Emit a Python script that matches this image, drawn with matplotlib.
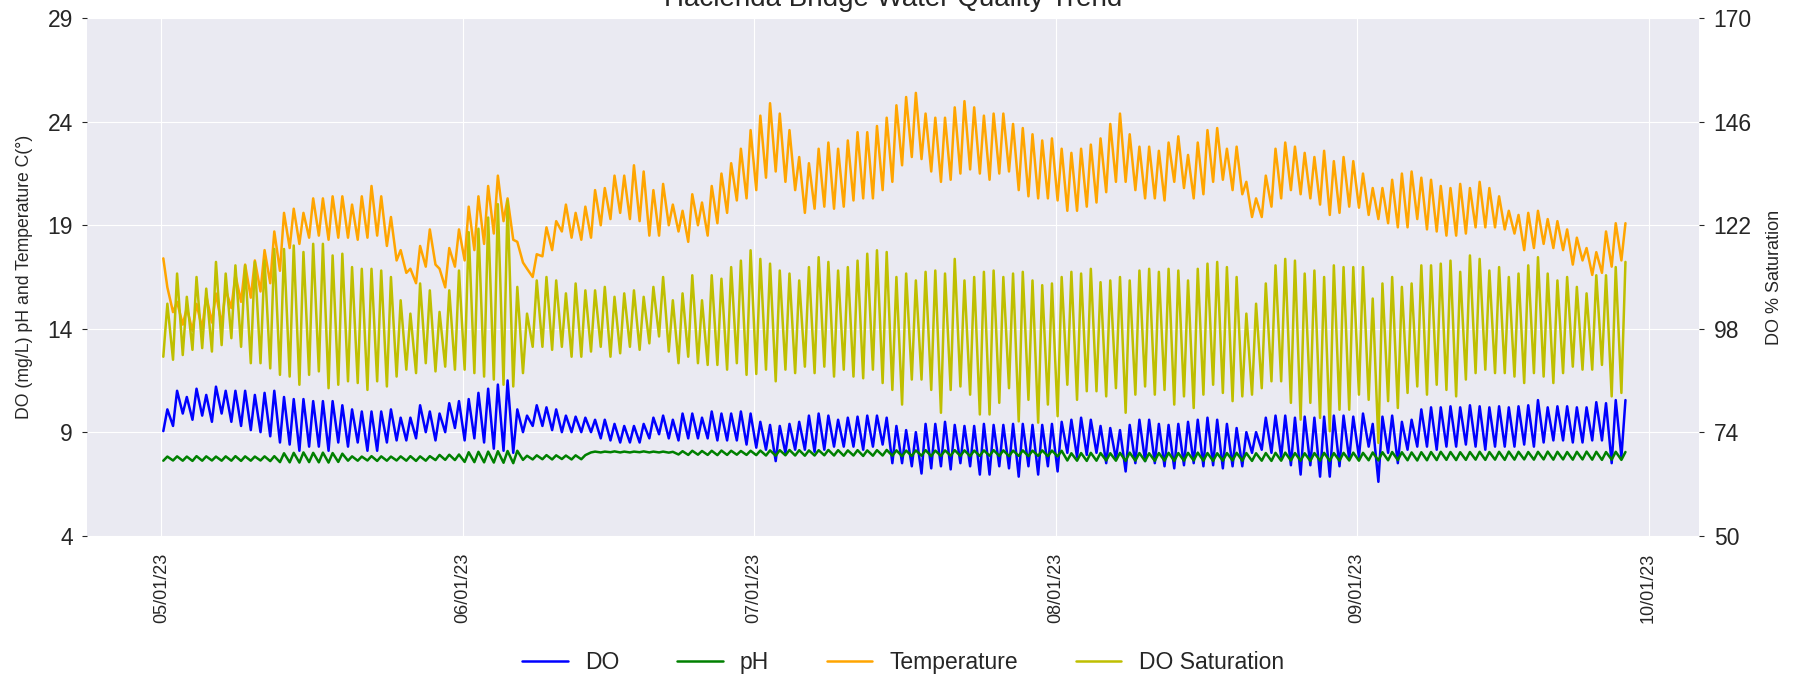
import numpy as np
import matplotlib
matplotlib.use("Agg")
import matplotlib.pyplot as plt
import matplotlib.dates as mdates
import seaborn as sns

# ---------------- data: one morning (low) and one afternoon (high) reading per day, 05/01/23 .. 09/28/23
temp_am = [17.4, 14.8, 14.2, 13.9, 14.0, 14.3, 14.2, 15.0, 15.3, 15.5, 15.8, 16.2, 16.8, 17.9, 18.1, 18.4,
           18.5, 18.3, 18.4, 18.4, 18.3, 18.4, 18.5, 18.0, 17.3, 16.7, 16.2, 17.0, 17.1, 16.0, 17.0,
           17.3, 17.8, 18.1, 18.6, 19.2, 18.3, 17.2, 16.5, 17.5, 17.8, 18.7, 18.4, 18.3, 18.4, 19.0,
           19.3, 19.6, 19.3, 19.2, 18.5, 18.5, 19.0, 18.7, 18.2, 19.0, 18.5, 19.1, 19.6, 20.2, 20.3,
           20.7, 21.3, 21.6, 21.1, 20.7, 19.6, 19.8, 19.9, 19.8, 19.9, 20.2, 20.3, 20.3, 20.7, 21.1,
           21.9, 22.3, 22.2, 21.6, 21.1, 21.2, 21.5, 21.7, 21.5, 21.2, 21.5, 21.6, 20.7, 20.4, 20.3, 20.3,
           20.2, 19.7, 19.7, 19.9, 20.1, 20.6, 21.1, 21.1, 20.7, 20.3, 20.3, 20.2, 21.1, 20.8, 20.3,
           20.5, 21.1, 21.2, 20.7, 20.5, 19.4, 19.4, 19.9, 20.3, 20.7, 20.5, 20.3, 20.0, 19.5, 19.6, 19.9,
           19.85, 19.5, 19.3, 19.1, 18.9, 18.9, 19.3, 18.8, 18.7, 18.5, 18.5, 18.6, 18.9, 18.9, 18.9,
           18.8, 18.6, 17.8, 17.9, 18.1, 17.9, 17.8, 17.1, 17.3, 16.6, 16.7, 17.0, 17.3]
temp_pm = [16.0, 15.3, 15.0, 15.2, 15.6, 15.7, 15.9, 16.6, 17.1, 17.3, 17.8, 18.7, 19.6, 19.8, 19.6, 20.3,
           20.3, 20.4, 20.4, 20.0, 20.4, 20.9, 20.4, 19.4, 17.8, 16.9, 18.0, 18.8, 16.9, 17.9, 18.8,
           19.9, 20.4, 20.9, 21.4, 20.3, 18.2, 16.9, 17.6, 18.9, 19.2, 20.0, 19.6, 19.9, 20.7, 20.8,
           21.4, 21.4, 21.9, 21.6, 20.7, 21.0, 20.0, 19.7, 20.5, 20.1, 20.9, 21.5, 22.0, 22.7, 23.6,
           24.3, 24.9, 24.4, 23.6, 22.3, 22.0, 22.7, 23.0, 22.7, 23.1, 23.5, 23.5, 23.8, 24.2, 24.8,
           25.2, 25.4, 24.4, 24.2, 24.2, 24.7, 25.0, 24.7, 24.3, 24.4, 24.4, 23.9, 23.7, 23.4, 23.1, 23.2,
           22.7, 22.5, 22.7, 22.9, 23.2, 23.9, 24.4, 23.4, 22.8, 22.8, 22.6, 23.0, 23.3, 22.4, 23.0,
           23.6, 23.7, 22.7, 22.8, 21.1, 20.3, 21.4, 22.7, 23.0, 22.8, 22.5, 22.3, 22.6, 22.1, 22.3, 22.1,
           21.5, 20.8, 20.8, 21.2, 21.5, 21.6, 21.3, 21.2, 20.9, 20.8, 21.0, 20.8, 21.1, 20.8, 20.4,
           19.7, 19.5, 19.6, 19.7, 19.3, 19.2, 18.8, 18.4, 17.9, 17.7, 18.7, 19.1, 19.1]

do_am = [9.05, 9.3, 9.9, 9.6, 9.8, 9.5, 9.9, 9.5, 9.3, 9.1, 9.0, 8.8, 8.5, 8.4, 8.1, 8.3,
         8.3, 8.1, 8.5, 8.3, 8.5, 8.1, 8.1, 8.5, 8.6, 8.6, 8.7, 9.0, 8.6, 9.0, 9.2,
         8.6, 8.7, 8.5, 8.2, 8.1, 8.0, 9.0, 9.3, 9.3, 9.1, 9.0, 9.0, 9.0, 9.0, 8.7,
         8.6, 8.5, 8.5, 8.5, 8.7, 8.9, 8.7, 8.6, 8.7, 8.7, 8.7, 8.6, 8.6, 8.6, 8.4,
         8.25, 8.15, 7.6, 8.0, 8.15, 8.15, 8.05, 8.15, 8.3, 8.3, 8.3, 8.15, 8.3, 8.4, 7.5,
         7.5, 7.35, 7.0, 7.25, 7.35, 7.2, 7.5, 7.35, 6.95, 6.95, 7.35, 7.25, 6.85, 7.35, 6.95, 7.35,
         7.1, 8.0, 7.8, 7.9, 8.0, 7.5, 7.7, 7.1, 7.5, 7.6, 7.5, 7.35, 7.25, 7.4, 7.5,
         7.35, 7.4, 7.25, 7.35, 7.35, 8.0, 8.15, 8.0, 7.8, 7.4, 6.95, 7.4, 6.85, 6.85, 7.35, 7.7,
         7.8, 8.3, 6.6, 8.0, 7.5, 8.15, 8.3, 8.3, 8.15, 8.3, 8.3, 8.4, 8.3, 8.15, 8.3,
         8.3, 8.3, 8.4, 8.3, 8.5, 8.6, 8.6, 8.5, 8.5, 8.6, 8.6, 7.5, 7.8]
do_pm = [10.1, 11.0, 10.7, 11.1, 10.8, 11.2, 11.0, 11.0, 11.0, 10.8, 10.9, 11.0, 10.7, 10.6, 10.6, 10.5,
         10.5, 10.5, 10.3, 10.1, 10.0, 10.0, 10.0, 10.1, 9.7, 9.7, 10.3, 10.0, 9.9, 10.4, 10.5,
         10.6, 10.9, 11.1, 11.3, 11.5, 10.1, 9.8, 10.3, 10.2, 10.1, 9.8, 9.75, 9.7, 9.6, 9.6,
         9.4, 9.3, 9.3, 9.4, 9.7, 9.8, 9.6, 9.9, 9.9, 9.7, 10.0, 9.9, 9.9, 10.0, 9.9,
         9.5, 9.35, 9.3, 9.4, 9.5, 9.8, 9.9, 9.8, 9.6, 9.7, 9.75, 9.8, 9.8, 9.7, 9.3,
         9.1, 9.0, 9.4, 9.4, 9.5, 9.35, 9.3, 9.3, 9.4, 9.35, 9.35, 9.4, 9.4, 9.35, 9.35, 9.4,
         9.5, 9.6, 9.7, 9.6, 9.3, 9.2, 9.1, 9.35, 9.6, 9.6, 9.4, 9.35, 9.4, 9.5, 9.6,
         9.7, 9.6, 9.4, 9.2, 9.0, 9.0, 9.7, 9.8, 9.8, 9.7, 9.75, 9.7, 9.75, 9.8, 9.8, 9.75,
         9.9, 9.4, 9.75, 9.8, 9.5, 9.6, 10.1, 10.2, 10.2, 10.25, 10.2, 10.3, 10.25, 10.2, 10.25,
         10.2, 10.25, 10.3, 10.55, 10.2, 10.25, 10.25, 10.2, 10.2, 10.45, 10.4, 10.55, 10.55]

ph_am = [7.62, 7.63, 7.62, 7.61, 7.62, 7.63, 7.62, 7.62, 7.61, 7.62, 7.63, 7.60,
         7.55, 7.54, 7.53, 7.55, 7.54, 7.53, 7.56,
         7.62, 7.62, 7.63, 7.61, 7.62, 7.63, 7.62, 7.61, 7.62,
         7.65, 7.66, 7.65,
         7.56, 7.55, 7.54, 7.53, 7.52, 7.50,
         7.66, 7.68, 7.69, 7.68, 7.70, 7.68, 7.69,
         8.02, 8.02, 8.03, 8.02, 8.02, 8.03, 8.02, 8.02, 8.01,
         7.92, 7.90, 7.91, 7.90, 7.89, 7.90, 7.91, 7.90, 7.89,
         7.87, 7.86, 7.88, 7.87, 7.86, 7.87, 7.88, 7.87, 7.86, 7.87, 7.85, 7.86, 7.87, 7.86, 7.84, 7.85,
         7.86, 7.84, 7.85, 7.86, 7.85, 7.84, 7.85, 7.86, 7.85, 7.84, 7.85, 7.84, 7.85, 7.84, 7.83,
         7.63, 7.62, 7.61, 7.62, 7.63, 7.62, 7.61, 7.62, 7.60, 7.61, 7.62, 7.61, 7.62, 7.63, 7.62, 7.61,
         7.62, 7.63, 7.62, 7.61, 7.62, 7.61, 7.62, 7.63, 7.62, 7.61, 7.62, 7.61, 7.62, 7.63, 7.62,
         7.64, 7.63, 7.64, 7.65, 7.64, 7.63, 7.64, 7.65, 7.66, 7.65, 7.66, 7.67, 7.66, 7.67, 7.66,
         7.67, 7.68, 7.67, 7.68, 7.67, 7.68, 7.67, 7.68, 7.67, 7.66, 7.67, 7.66]
ph_pm = [7.82, 7.83, 7.82, 7.84, 7.83, 7.82, 7.83, 7.84, 7.83, 7.82, 7.83, 7.84,
         7.98, 8.00, 8.02, 8.00, 8.01, 7.99, 7.96,
         7.83, 7.82, 7.84, 7.83, 7.82, 7.83, 7.84, 7.83, 7.84,
         7.90, 7.91, 7.92,
         8.03, 8.05, 8.06, 8.08, 8.09, 8.10,
         7.86, 7.88, 7.89, 7.88, 7.87, 7.88, 7.89,
         8.06, 8.06, 8.07, 8.06, 8.06, 8.07, 8.06, 8.06, 8.05,
         8.08, 8.10, 8.09, 8.10, 8.11, 8.10, 8.09, 8.10, 8.11,
         8.12, 8.13, 8.14, 8.13, 8.12, 8.13, 8.14, 8.13, 8.12, 8.13, 8.12, 8.13, 8.14, 8.12, 8.11, 8.12,
         8.13, 8.11, 8.12, 8.13, 8.12, 8.11, 8.12, 8.13, 8.12, 8.11, 8.12, 8.11, 8.12, 8.11, 8.10,
         7.98, 7.99, 8.00, 7.99, 7.98, 8.00, 8.01, 7.99, 7.98, 7.99, 8.00, 7.99, 8.00, 8.01, 7.99, 7.98,
         7.99, 8.00, 7.99, 7.98, 7.99, 8.00, 8.01, 7.99, 7.98, 7.99, 8.00, 7.99, 8.00, 8.01, 8.00,
         8.02, 8.03, 8.04, 8.03, 8.02, 8.03, 8.04, 8.05, 8.04, 8.03, 8.04, 8.05, 8.04, 8.05, 8.06,
         8.05, 8.04, 8.05, 8.06, 8.05, 8.04, 8.05, 8.06, 8.05, 8.04, 8.05, 8.04]

sat_am = [91.5, 90.8, 91.9, 93.1, 93.5, 92.7, 94.2, 95.8, 93.8, 90.0, 90.0, 88.8, 87.3, 86.9, 85.0, 87.3,
          88.1, 84.2, 85.0, 85.8, 85.4, 83.8, 85.8, 84.6, 86.9, 88.5, 87.7, 90.0, 88.1, 89.2, 88.5,
          88.5, 87.7, 86.9, 86.2, 85.0, 84.6, 87.7, 93.8, 93.8, 93.1, 93.8, 91.5, 91.5, 92.7, 93.8,
          91.5, 92.3, 93.8, 93.1, 94.6, 96.2, 92.7, 90.0, 91.5, 90.0, 89.6, 89.6, 88.5, 90.0, 87.3,
          87.5, 88.5, 85.8, 88.5, 87.7, 89.2, 87.7, 89.2, 86.9, 88.5, 86.9, 86.5, 88.5, 85.4, 83.8,
          80.4, 86.2, 86.2, 83.8, 78.5, 83.8, 84.6, 82.7, 78.1, 78.1, 80.8, 84.2, 76.5, 81.5, 76.2, 80.4,
          77.7, 85.0, 81.5, 83.5, 83.5, 82.3, 84.2, 78.5, 82.7, 84.6, 82.7, 83.8, 80.4, 82.3, 79.6,
          82.7, 85.0, 83.1, 81.2, 82.3, 82.7, 84.2, 85.8, 85.8, 80.8, 76.9, 80.8, 77.3, 74.2, 79.2, 79.2,
          82.7, 81.5, 71.5, 81.2, 79.6, 83.1, 84.6, 82.7, 85.0, 83.8, 82.3, 86.2, 87.7, 88.5, 87.7,
          87.7, 86.9, 85.4, 87.7, 86.9, 85.4, 87.7, 89.2, 88.5, 88.5, 89.6, 82.3, 83.1]
sat_pm = [103.8, 110.8, 105.4, 110.0, 107.3, 113.5, 110.8, 112.7, 112.7, 113.5, 113.8, 116.5, 116.5, 117.3,
          115.8, 117.7, 117.7, 115.0, 115.4, 112.3, 111.9, 111.9, 111.5, 110.0, 104.6, 101.5, 108.5, 106.9,
          101.9, 106.9, 111.5,
          120.4, 121.2, 123.8, 126.9, 127.7, 107.7, 101.5, 109.2, 110.0, 109.2, 106.2, 108.5, 106.9, 106.9,
          107.7, 105.4, 106.2, 106.9, 105.4, 107.7, 110.0, 104.6, 106.2, 110.4, 104.6, 110.4, 109.6, 112.3,
          113.8, 116.2,
          114.2, 113.1, 111.5, 110.8, 109.2, 112.3, 114.6, 113.5, 111.5, 112.3, 113.8, 115.4, 116.2, 115.8,
          110.0, 110.8, 109.2, 111.2, 111.5, 110.8, 114.2, 109.2, 110.0, 111.2, 111.5, 110.0, 110.8, 111.2,
          109.2, 108.1, 108.5,
          110.0, 111.2, 110.8, 111.9, 108.8, 109.2, 110.0, 109.2, 111.5, 111.9, 111.2, 111.9, 111.5, 109.2,
          111.9, 113.1, 113.5, 112.3, 110.0, 101.5, 103.8, 108.5, 112.7, 114.2, 113.8, 110.8, 111.5, 110.0,
          112.7, 112.3, 112.3,
          112.3, 105.0, 108.5, 110.0, 107.7, 108.5, 112.7, 112.7, 113.1, 113.8, 111.2, 115.0, 114.2, 111.5,
          112.3, 110.0, 110.8, 112.7, 114.6, 110.8, 109.2, 110.0, 107.7, 106.2, 110.4, 110.4, 112.3, 113.5]

series_labels = ["DO", "pH", "Temperature", "DO Saturation"]
left_ticks = [4, 9, 14, 19, 24, 29]
right_ticks = [50, 74, 98, 122, 146, 170]
start_date = "2023-05-01"

lists = [temp_am, temp_pm, do_am, do_pm, ph_am, ph_pm, sat_am, sat_pm]
n = len(temp_am)
for L in lists:
    if len(L) != n:
        raise SystemExit("length mismatch %d vs %d" % (len(L), n))

# ---------------- build time axis (morning 05:00, afternoon 15:00)
start = np.datetime64(start_date + "T00:00")
day = np.arange(n) * np.timedelta64(1, "D")
t = np.empty(2 * n, dtype="datetime64[m]")
t[0::2] = start + day + np.timedelta64(5, "h")
t[1::2] = start + day + np.timedelta64(15, "h")


def pair(a, b):
    out = np.empty(2 * n)
    out[0::2] = a
    out[1::2] = b
    return out


temp = pair(temp_am, temp_pm)
do = pair(do_am, do_pm)
ph = pair(ph_am, ph_pm)
sat = pair(sat_am, sat_pm)

# ---------------- style
sns.set_style("darkgrid")
plt.rcParams["font.family"] = ["Liberation Sans", "DejaVu Sans"]
txt = "0.15"
LW = 1.8

fig = plt.figure(figsize=(18.06, 6.79), dpi=100)
fig.subplots_adjust(left=0.0484, right=0.9408, bottom=0.2112, top=0.9729)
ax = fig.add_subplot(111)

l1, = ax.plot(t, do, color="blue", lw=LW, label=series_labels[0])
l2, = ax.plot(t, ph, color="green", lw=LW, label=series_labels[1])
l3, = ax.plot(t, temp, color="orange", lw=LW, label=series_labels[2])
ax2 = ax.twinx()
l4, = ax2.plot(t, sat, color="y", lw=LW, label=series_labels[3])
ax2.grid(False)

ax.set_ylim(left_ticks[0], left_ticks[-1])
ax.set_yticks(left_ticks)
ax2.set_ylim(right_ticks[0], right_ticks[-1])
ax2.set_yticks(right_ticks)

x0 = mdates.date2num(start.astype("datetime64[s]").astype(object))
ax.set_xlim(x0 - 7.6, x0 + 158.2)
ax.xaxis.set_major_locator(mdates.MonthLocator())
ax.xaxis.set_major_formatter(mdates.DateFormatter("%m/%d/%y"))
for lab in ax.get_xticklabels():
    lab.set_rotation(90)

ax.tick_params(axis="x", labelsize=13, colors=txt, pad=9)
ax.tick_params(axis="y", labelsize=16.5, colors=txt, pad=7)
ax2.tick_params(axis="y", labelsize=16.5, colors=txt, pad=7)
for s in list(ax.spines.values()) + list(ax2.spines.values()):
    s.set_visible(False)

ax.set_ylabel("DO (mg/L) pH and Temperature C(°)", fontsize=12.7, color=txt, labelpad=10)
ax2.set_ylabel("DO % Saturation", fontsize=13, color=txt, labelpad=10)
ax.set_title("Hacienda Bridge Water Quality Trend", fontsize=20, color=txt, pad=9)

fig.legend([l1, l2, l3, l4], series_labels, loc="center", bbox_to_anchor=(0.5, 0.0236),
           ncol=4, frameon=False, fontsize=16.5, columnspacing=2.5, handletextpad=0.75)

fig.savefig("out.png", dpi=100)
